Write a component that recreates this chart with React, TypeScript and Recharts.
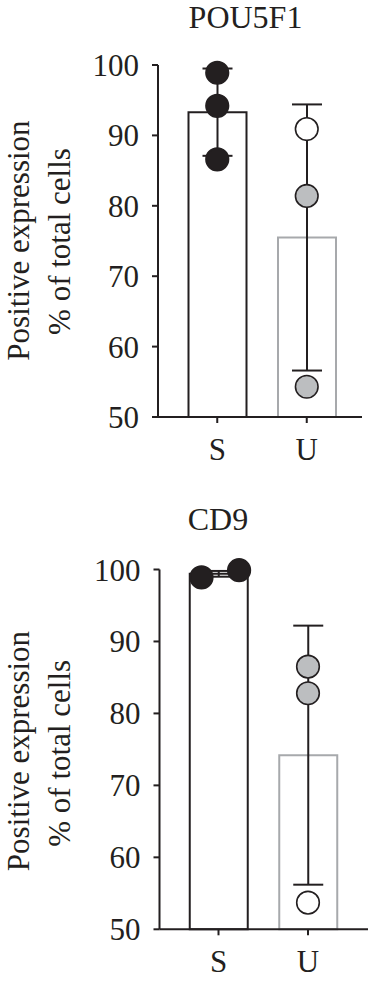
import React from 'react';
import { ComposedChart, Bar, Cell, ErrorBar, Scatter, XAxis, YAxis } from 'recharts';

// categories and axis ticks
const categories = ['S', 'U'];
const yTicks = [50, 60, 70, 80, 90, 100];

// POU5F1: group means, SD, and individual replicates
const pouMeans = [93.3, 75.5];
const pouSd = [6.2, 18.9];
const pouS = [98.9, 94.2, 86.6];
const pouU = [90.9, 81.4, 54.3];

// CD9
const cd9Means = [99.4, 74.2];
const cd9Sd = [0.4, 18.0];
const cd9S = [98.9, 99.9];
const cd9SJitter = [-0.19, 0.23]; // horizontal spread of overlapping dots, in category units
const cd9U = [86.5, 82.8, 53.7];

const INK = '#231f20';
const GREY_FILL = '#bcbec0';
const GREY_LINE = '#a7a9ac';
const FONT = '"Liberation Serif", "Times New Roman", serif';

const barStrokes = [INK, GREY_LINE];

type PanelProps = {
  title: string;
  titleX: number;
  titleY: number;
  means: number[];
  sd: number[];
  sPoints: number[];
  sJitter?: number[];
  uPoints: number[];
  uFills: string[];
  top: number;
  height: number;
  margin: { top: number; right: number; bottom: number; left: number };
  pad: { left: number; right: number };
  labelX: [number, number];
  labelY: [number, number];
};

const renderDot = (props: any) => {
  const { cx, cy, fill } = props;
  if (cx == null || cy == null) return <g />;
  return <circle cx={cx} cy={cy} r={11.3} fill={fill} stroke={INK} strokeWidth={1.6} />;
};

const Panel = ({
  title, titleX, titleY, means, sd, sPoints, sJitter, uPoints, uFills,
  top, height, margin, pad, labelX, labelY,
}: PanelProps) => {
  const barData = categories.map((name, i) => ({ name, mean: means[i], sd: sd[i] }));
  const dots = [
    ...sPoints.map((value, i) => ({ pos: 0 + (sJitter ? sJitter[i] : 0), value, fill: INK })),
    ...uPoints.map((value, i) => ({ pos: 1, value, fill: uFills[i] })),
  ];

  return (
    <div style={{ position: 'absolute', left: 0, top, width: 369, height }}>
      <ComposedChart width={369} height={height} data={barData} margin={margin}>
        <XAxis
          xAxisId="cat"
          dataKey="name"
          type="category"
          padding={pad}
          height={50}
          axisLine={{ stroke: INK, strokeWidth: 2 }}
          tickLine={{ stroke: INK, strokeWidth: 2 }}
          tickSize={6}
          tickMargin={15}
          tick={{ fill: INK, fontSize: 31, fontFamily: FONT }}
        />
        <XAxis xAxisId="num" dataKey="pos" type="number" domain={[-0.5, 1.5]} padding={pad} hide />
        <YAxis
          domain={[50, 100]}
          ticks={yTicks}
          width={60}
          axisLine={{ stroke: INK, strokeWidth: 2 }}
          tickLine={{ stroke: INK, strokeWidth: 2 }}
          tickSize={6}
          tickMargin={13}
          tick={{ fill: INK, fontSize: 31, fontFamily: FONT }}
        />
        <Bar xAxisId="cat" dataKey="mean" barSize={58} fill="#ffffff" strokeWidth={2} isAnimationActive={false}>
          {barData.map((_d, i) => (
            <Cell key={`bar-${i}`} stroke={barStrokes[i]} />
          ))}
          <ErrorBar dataKey="sd" width={15} stroke={INK} strokeWidth={2} direction="y" />
        </Bar>
        <Scatter xAxisId="num" data={dots} dataKey="value" shape={renderDot} isAnimationActive={false}>
          {dots.map((d, i) => (
            <Cell key={`dot-${i}`} fill={d.fill} />
          ))}
        </Scatter>
      </ComposedChart>
      <svg
        width={369}
        height={height}
        style={{ position: 'absolute', left: 0, top: 0, pointerEvents: 'none' }}
      >
        <text x={titleX} y={titleY} textAnchor="middle" fontSize={32} fontFamily={FONT} fill={INK}>
          {title}
        </text>
        <text
          transform={`translate(${labelX[0]}, ${labelY[0]}) rotate(-90)`}
          textAnchor="middle"
          fontSize={31}
          fontFamily={FONT}
          fill={INK}
        >
          Positive expression
        </text>
        <text
          transform={`translate(${labelX[1]}, ${labelY[1]}) rotate(-90)`}
          textAnchor="middle"
          fontSize={31}
          fontFamily={FONT}
          fill={INK}
        >
          % of total cells
        </text>
      </svg>
    </div>
  );
};

export default function App() {
  return (
    <div style={{ position: 'absolute', left: 0, top: 0, width: 369, height: 985, background: '#fff' }}>
      <Panel
        title="POU5F1"
        titleX={245.5}
        titleY={28}
        means={pouMeans}
        sd={pouSd}
        sPoints={pouS}
        uPoints={pouU}
        uFills={['#ffffff', GREY_FILL, GREY_FILL]}
        top={0}
        height={480}
        margin={{ top: 65, right: 7, bottom: 13, left: 98 }}
        pad={{ left: 14.5, right: 10.5 }}
        labelX={[28.5, 69.5]}
        labelY={[240.5, 241.5]}
      />
      <Panel
        title="CD9"
        titleX={218}
        titleY={39.5}
        means={cd9Means}
        sd={cd9Sd}
        sPoints={cd9S}
        sJitter={cd9SJitter}
        uPoints={cd9U}
        uFills={[GREY_FILL, GREY_FILL, '#ffffff']}
        top={490}
        height={495}
        margin={{ top: 79.5, right: 1, bottom: 5.7, left: 99.5 }}
        pad={{ left: 14.25, right: 15.25 }}
        labelX={[28.8, 70.3]}
        labelY={[261, 263.3]}
      />
    </div>
  );
}
